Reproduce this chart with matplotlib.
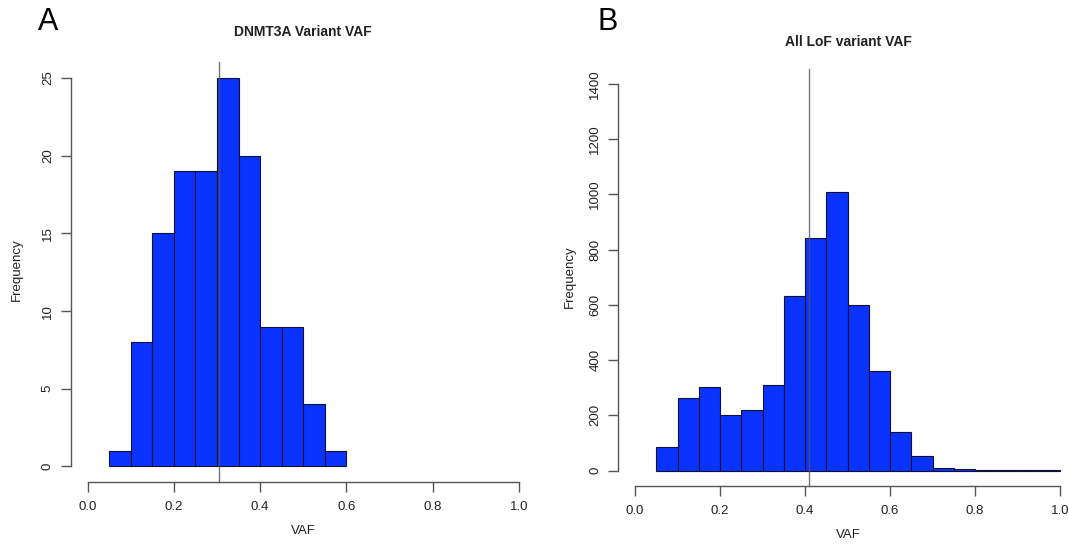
import numpy as np
import matplotlib
matplotlib.use("Agg")
import matplotlib.pyplot as plt

plt.rcParams['font.family'] = ['Liberation Sans', 'DejaVu Sans']

# Histogram bin edges (VAF)
bin_edges = [0.05, 0.10, 0.15, 0.20, 0.25, 0.30, 0.35, 0.40, 0.45, 0.50,
             0.55, 0.60, 0.65, 0.70, 0.75, 0.80, 0.85, 0.90, 0.95, 1.00]

# DNMT3A variant counts per bin (0.05 .. 0.60)
dnmt3a_counts = [1, 8, 15, 19, 19, 25, 20, 9, 9, 4, 1]
dnmt3a_median = 0.305

# All loss-of-function variant counts per bin (0.05 .. 1.00)
lof_counts = [87, 261, 301, 200, 221, 308, 631, 841, 1008, 598, 359, 138,
              51, 10, 7, 2, 1, 1, 3]
lof_median = 0.409

x_ticks = [0.0, 0.2, 0.4, 0.6, 0.8, 1.0]
y_ticks_a = [0, 5, 10, 15, 20, 25]
y_ticks_b = [0, 200, 400, 600, 800, 1000, 1200, 1400]

W, H = 1069, 546
BAR_COLOR = '#0a33ff'
TEXT_COLOR = '#222222'
AXIS_COLOR = '#555555'


def px_axes(fig, x0, y0, x1, y1):
    return fig.add_axes([x0 / W, 1 - y1 / H, (x1 - x0) / W, (y1 - y0) / H])


def fig_text(fig, x, y, s, **kw):
    return fig.text(x / W, 1 - y / H, s, ha='center', va='center',
                    color=TEXT_COLOR, **kw)


def r_hist(ax, counts, median, yticks, ylim):
    edges = bin_edges[:len(counts) + 1]
    lefts = edges[:-1]
    widths = np.diff(edges)
    ax.bar(lefts, counts, width=widths, align='edge', color=BAR_COLOR,
           edgecolor='#111133', linewidth=0.8, zorder=2)
    ax.axvline(median, color='#555555', alpha=0.8, linewidth=1.0, zorder=3,
               clip_on=False)
    ax.set_xlim(-0.04, 1.04)
    ax.set_ylim(*ylim)
    for s in ['top', 'right']:
        ax.spines[s].set_visible(False)
    ax.spines['left'].set_bounds(yticks[0], yticks[-1])
    ax.spines['bottom'].set_bounds(x_ticks[0], x_ticks[-1])
    for s in ['left', 'bottom']:
        ax.spines[s].set_color(AXIS_COLOR)
        ax.spines[s].set_linewidth(1.0)
    ax.set_xticks(x_ticks)
    ax.set_xticklabels([f"{t:.1f}" for t in x_ticks])
    ax.set_yticks(yticks)
    ax.set_yticklabels([str(t) for t in yticks], rotation=90, va='center')
    ax.tick_params(axis='both', length=7, width=1.0, color=AXIS_COLOR,
                   labelsize=9.5, labelcolor=TEXT_COLOR)
    ax.tick_params(axis='x', pad=7)
    ax.tick_params(axis='y', pad=5)
    ax.patch.set_visible(False)


fig = plt.figure(figsize=(W / 100, H / 100), dpi=100)
fig.patch.set_facecolor('white')

ax_a = px_axes(fig, 70.5, 62.5, 536, 482)
r_hist(ax_a, dnmt3a_counts, dnmt3a_median, y_ticks_a, (-1, 26))

ax_b = px_axes(fig, 618, 68.5, 1077, 486)
r_hist(ax_b, lof_counts, lof_median, y_ticks_b, (-56, 1456))

# Titles, axis labels and panel letters
fig_text(fig, 303, 32, 'DNMT3A Variant VAF', fontsize=10, fontweight='bold')
fig_text(fig, 848, 42, 'All LoF variant VAF', fontsize=10, fontweight='bold')
fig_text(fig, 303, 531, 'VAF', fontsize=9.5)
fig_text(fig, 848, 535, 'VAF', fontsize=9.5)
fig_text(fig, 17, 270, 'Frequency', fontsize=9.5, rotation=90)
fig_text(fig, 570, 277, 'Frequency', fontsize=9.5, rotation=90)

fig.text(38 / W, 1 - 22 / H, 'A', fontsize=22, va='center', ha='left',
         color='black')
fig.text(597 / W, 1 - 22 / H, 'B', fontsize=22, va='center', ha='left',
         color='black')

fig.savefig('out.png', dpi=100, facecolor='white')
